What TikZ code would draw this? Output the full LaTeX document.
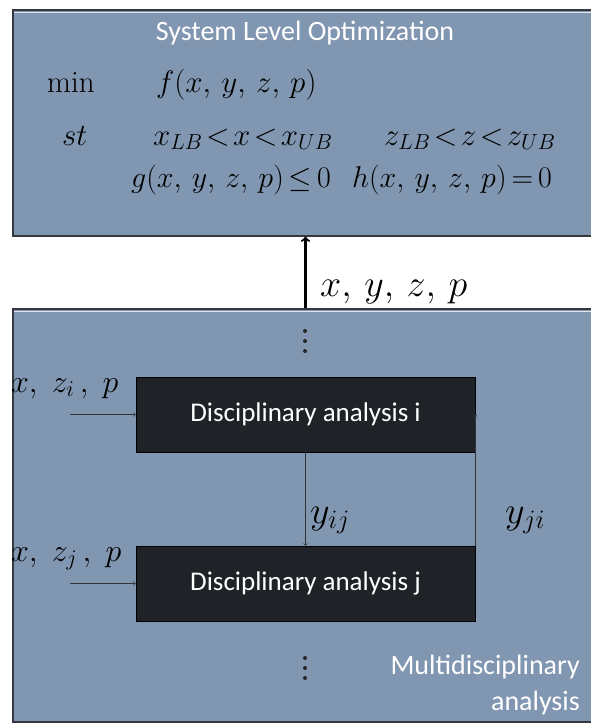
\RequirePackage{fix-cm}
\documentclass[tikz,border=0pt]{standalone}
\usepackage{amsmath,amssymb}
\usepackage{fontspec}
\newfontfamily\calibfont{Carlito}
\usepackage{tikz}
\usetikzlibrary{positioning}
\usepackage{xcolor}
\definecolor{panelblue}{RGB}{128,150,177}
\definecolor{paneledge}{RGB}{52,55,60}
\definecolor{boxblack}{RGB}{31,35,40}

\begin{document}
\begin{tikzpicture}[x=1pt, y=-1pt,
    panel/.style={draw=paneledge, line width=1.6pt, fill=panelblue, anchor=north west, inner sep=0pt},
    hilite/.style={draw=white!75!panelblue, line width=1pt},
    anabox/.style={draw=black, line width=0.8pt, fill=boxblack, minimum width=339pt, minimum height=75pt,
        text=white, font=\calibfont\fontsize{27}{30}\selectfont},
    eqn/.style={anchor=base west, inner sep=0pt, font=\fontsize{31}{34}\selectfont},
    biglbl/.style={anchor=base west, inner sep=0pt, font=\fontsize{38}{41}\selectfont},
    inlbl/.style={anchor=base west, inner sep=0pt, font=\fontsize{32}{35}\selectfont},
    sanslbl/.style={text=white, font=\calibfont\fontsize{28}{36}\selectfont},
    thin/.style={->, line width=0.6pt, black!80}]
    \useasboundingbox (0,0) rectangle (591,723);
    \clip (0,0) rectangle (591,723);

    % System level box
    \node[panel, minimum width=590pt, minimum height=226pt] (sysbox) at (12,9) {};
    \draw[hilite] ([shift={(1.5pt,-3pt)}]sysbox.north west) -- ([shift={(0pt,-3pt)}]sysbox.north east);
    \node[sanslbl] (systitle) at (305,33) {System Level Optimization};
    \node[eqn] (minlbl) at (47,92) {$\min$};
    \node[eqn] (obj) at (156,92) {$f(x,\, y,\, z,\, p)$};
    \node[eqn] (stlbl) at (62,145) {$st$};
    \node[eqn] (xbnd) at (153,145) {$\thickmuskip=2mu x_{LB} < x < x_{UB}$};
    \node[eqn] (zbnd) at (384,145) {$\thickmuskip=2mu z_{LB} < z < z_{UB}$};
    \node[eqn, font=\fontsize{30}{33}\selectfont] (gcon) at (131,187) {$\thickmuskip=3mu g(x,\, y,\, z,\, p) \le 0$};
    \node[eqn, font=\fontsize{30}{33}\selectfont] (hcon) at (352,187) {$\thickmuskip=3mu h(x,\, y,\, z,\, p) = 0$};

    % Multidisciplinary analysis box
    \node[panel, minimum width=590pt, minimum height=413pt] (mdabox) at (12,308) {};
    \draw[hilite] ([shift={(1.5pt,-3pt)}]mdabox.north west) -- ([shift={(0pt,-3pt)}]mdabox.north east);
    \node[anabox] (anai) at (305.5,414.5) {Disciplinary analysis i};
    \node[anabox] (anaj) at (305.5,583.5) {Disciplinary analysis j};
    \node[sanslbl, align=right, anchor=north east, inner sep=0pt] (mdalbl) at (580,655) {Multidisciplinary\\analysis};

    % dots
    \foreach \k in {0,1,2} {
        \fill[black!85] (305,331+10*\k) circle (2pt);
        \fill[black!85] (305,658+10*\k) circle (2pt);
    }

    % Coupling to system level
    \draw[->, line width=2.2pt] (mdabox.north -| anai.north) -- (sysbox.south -| anai.north);
    \node[biglbl] (xyzp) at (320,296) {$x,\, y,\, z,\, p$};

    % Inputs
    \coordinate (ini) at (70,414.5);
    \coordinate (inj) at (70,583.5);
    \draw[thin] (ini) -- (anai.west);
    \draw[thin] (inj) -- (anaj.west);
    \node[inlbl] (inilbl) at (11,392) {$x,\; z_i\,,\; p$};
    \node[inlbl] (injlbl) at (11,561) {$x,\; z_j\,,\; p$};

    % Coupling variables
    \draw[thin] (anai.south) -- (anaj.north);
    \draw[thin] (anaj.north east) -- (anai.east);
    \node[biglbl] (yij) at (310,523) {$y_{ij}$};
    \node[biglbl] (yji) at (505,523) {$y_{ji}$};
\end{tikzpicture}
\end{document}
